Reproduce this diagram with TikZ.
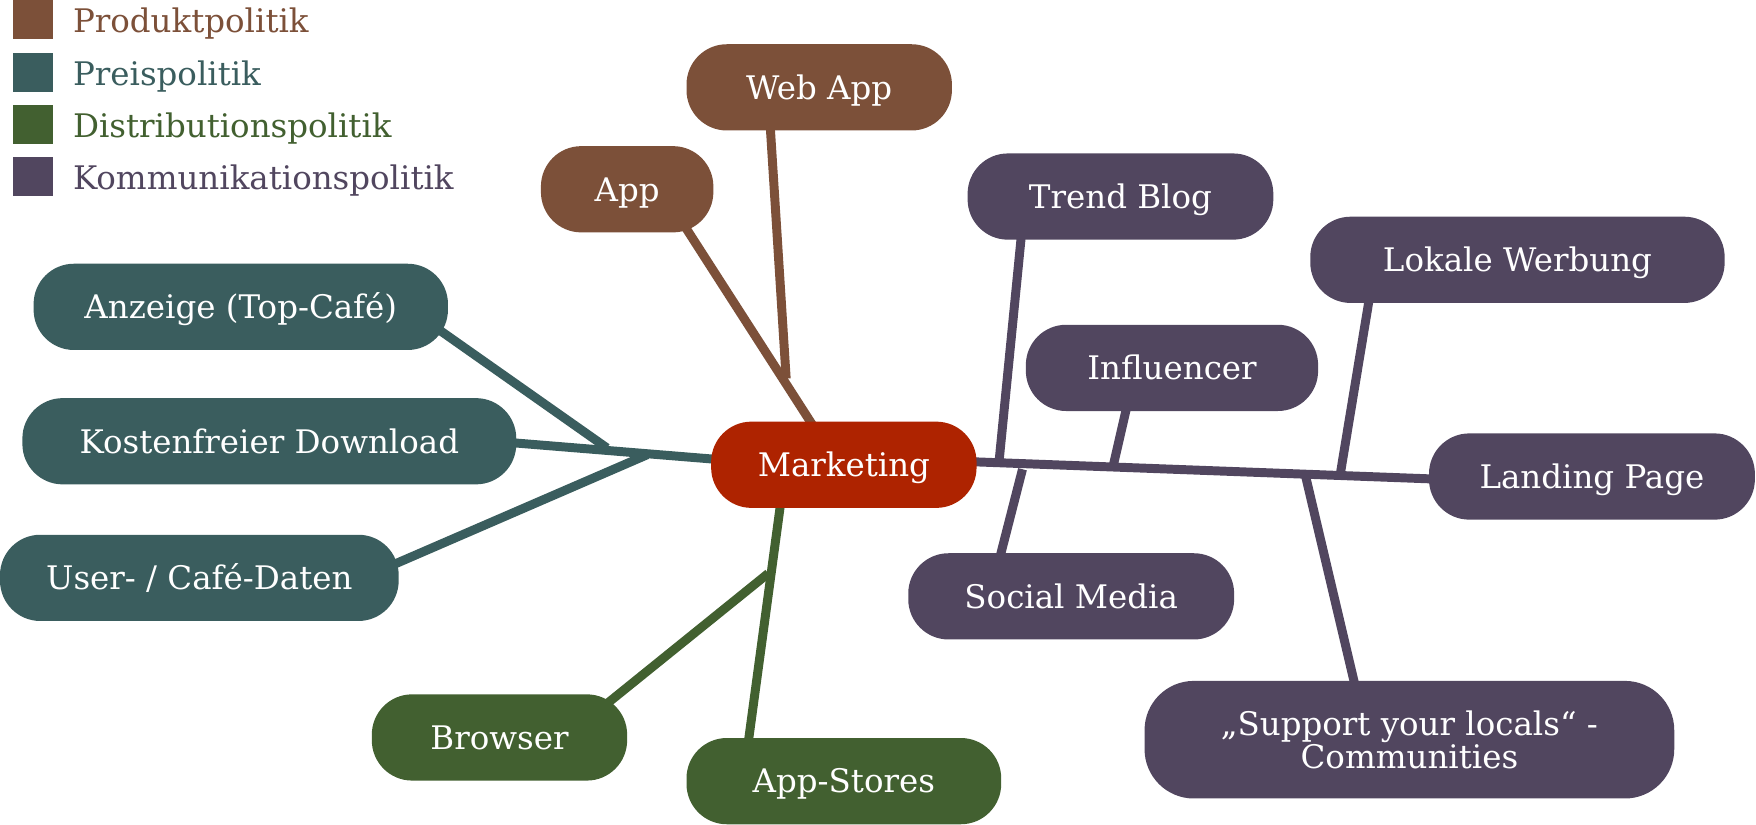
\documentclass[tikz,border=0pt]{standalone}
\usepackage{fontspec}
\setmainfont{DejaVu Serif}
\usetikzlibrary{backgrounds,calc}
\definecolor{cbrown}{HTML}{7C5039}
\definecolor{cteal}{HTML}{3A5D5E}
\definecolor{cgreen}{HTML}{426030}
\definecolor{cpurple}{HTML}{51465F}
\definecolor{cred}{HTML}{AE2300}
\tikzset{
  pill/.style={fill=#1, draw=none, rounded corners=36pt, minimum height=77pt, inner sep=0pt,
    text=white, font=\fontsize{29}{32}\selectfont, align=center},
  oneline/.style={text height=21pt, text depth=0pt},
  conn/.style={draw=#1, line width=8pt},
  legbox/.style={fill=#1, draw=none, minimum width=35pt, minimum height=35pt, inner sep=0pt},
  legtext/.style={text=#1, anchor=west, inner sep=0pt, text height=21pt, text depth=0pt, font=\fontsize{29}{32}\selectfont},
}
\begin{document}
\begin{tikzpicture}[x=1pt,y=-1pt]
\useasboundingbox (0,0) rectangle (1568,736);
% legend
\node[legbox=cbrown]  (lb1) at (29.5,17.5) {};
\node[legbox=cteal]   (lb2) at (29.5,64.5) {};
\node[legbox=cgreen]  (lb3) at (29.5,111.5) {};
\node[legbox=cpurple] (lb4) at (29.5,157.5) {};
\node[legtext=cbrown]  (lt1) at (65,18.5) {Produktpolitik};
\node[legtext=cteal]   (lt2) at (65,65.5) {Preispolitik};
\node[legtext=cgreen]  (lt3) at (65,112.5) {Distributionspolitik};
\node[legtext=cpurple] (lt4) at (65,158.5) {Kommunikationspolitik};
% nodes
\node[pill=cred, oneline, minimum width=237pt] (mk) at (753.5,415) {Marketing};
\node[pill=cbrown, oneline, minimum width=237pt] (webapp) at (731.5,78) {Web App};
\node[pill=cbrown, oneline, minimum width=154pt] (app) at (560,169) {App};
\node[pill=cteal, oneline, minimum width=370pt] (anz) at (215,274) {Anzeige (Top-Café)};
\node[pill=cteal, oneline, minimum width=441pt] (kost) at (240.5,394) {Kostenfreier Download};
\node[pill=cteal, oneline, minimum width=356pt] (user) at (178,516) {User- / Café-Daten};
\node[pill=cgreen, oneline, minimum width=228pt] (brow) at (446,658.5) {Browser};
\node[pill=cgreen, oneline, minimum width=281pt] (store) at (753.5,697.5) {App-Stores};
\node[pill=cpurple, oneline, minimum width=273pt] (trend) at (1000.5,175.5) {Trend Blog};
\node[pill=cpurple, oneline, minimum width=370pt] (lokal) at (1355,232) {Lokale Werbung};
\node[pill=cpurple, oneline, minimum width=261pt] (infl) at (1046.5,328.5) {Influencer};
\node[pill=cpurple, oneline, minimum width=291pt] (land) at (1421.5,425.5) {Landing Page};
\node[pill=cpurple, oneline, minimum width=291pt] (soc) at (956.5,532.5) {Social Media};
\node[pill=cpurple, minimum width=473pt, minimum height=105pt, rounded corners=44pt] (supp) at (1258.5,660.5) {„Support your locals“ -\\[-2pt]Communities};
% junction coordinates
\coordinate (jweb) at (702,338);
\coordinate (janz) at (542,400);
\coordinate (juser) at (578,406);
\coordinate (jbrow) at (686,512);
\coordinate (jtrend) at (892,413);
\coordinate (jinfl) at (994,416);
\coordinate (jsoc) at (913,419);
\coordinate (jlok) at (1197,422);
\coordinate (jsupp) at (1166,426);
\begin{scope}[on background layer]
\draw[conn=cbrown] ($(app.center)+(45,23)$) -- ($(mk.center)+(-18,-20)$);
\draw[conn=cbrown] ($(webapp.south)+(-44.5,-16)$) -- (jweb);
\draw[conn=cteal] ($(kost.east)+(-20,0)$) -- ($(mk.west)+(15,-4)$);
\draw[conn=cteal] ($(anz.center)+(165,12)$) -- (janz);
\draw[conn=cteal] ($(user.east)+(-16,-7)$) -- (juser);
\draw[conn=cgreen] ($(store.north)+(-87.5,20)$) -- ($(mk.south)+(-55,-15)$);
\draw[conn=cgreen] ($(brow.center)+(84,-20.5)$) -- (jbrow);
\draw[conn=cpurple] ($(mk.east)+(-12,-3)$) -- ($(land.west)+(12,2.5)$);
\draw[conn=cpurple] ($(trend.south)+(-87.5,-14)$) -- (jtrend);
\draw[conn=cpurple] ($(infl.south)+(-38.5,-12)$) -- (jinfl);
\draw[conn=cpurple] (jsoc) -- ($(soc.north)+(-65.5,11)$);
\draw[conn=cpurple] ($(lokal.south)+(-131,-12)$) -- (jlok);
\draw[conn=cpurple] (jsupp) -- ($(supp.north)+(-46.5,13)$);
\end{scope}
\end{tikzpicture}
\end{document}
